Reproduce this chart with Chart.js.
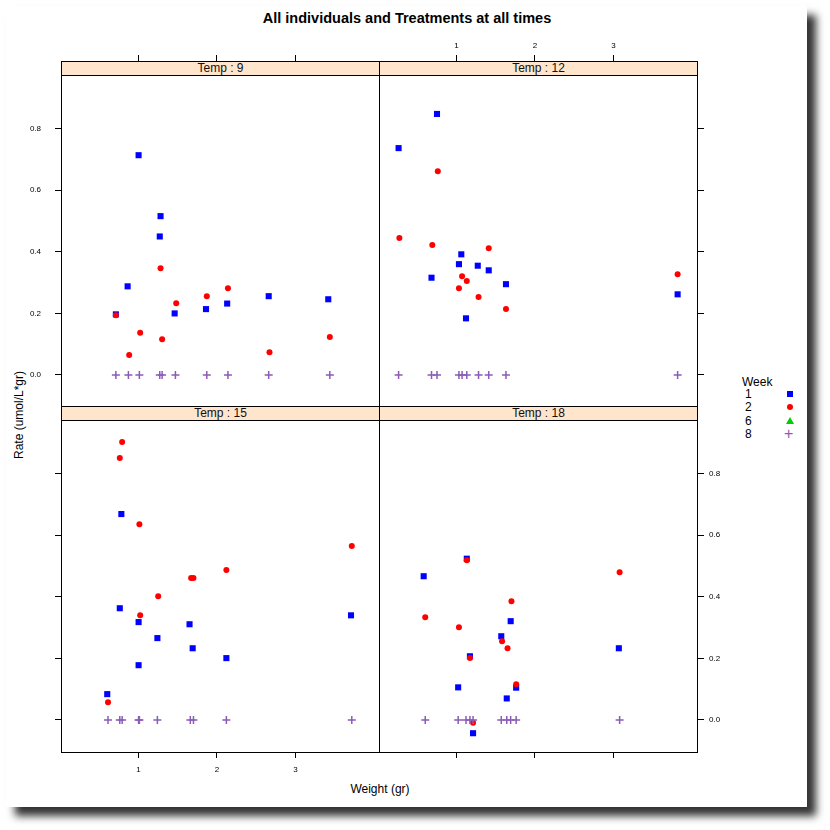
<!DOCTYPE html>
<html>
<head>
<meta charset="utf-8">
<script src="https://cdn.jsdelivr.net/npm/chart.js@4/dist/chart.umd.min.js"></script>
<style>
  body { margin: 0; background: #fff; font-family: "Liberation Sans", Arial, sans-serif; }
  #card { position: absolute; left: 6px; top: 6px; width: 801px; height: 801px; background: #fff;
          box-shadow: 9px 9px 8px rgba(0,0,0,0.8); }
  canvas { position: absolute; }
  .txt { position: absolute; white-space: nowrap; color: #000; }
  .box { position: absolute; box-sizing: border-box; border: 1px solid #000; pointer-events: none; }
  .strip { position: absolute; box-sizing: border-box; border: 1px solid #000; background: #ffe5cc;
           font-size: 12px; line-height: 13px; text-align: center; color: #111; }
  .sym { position: absolute; }
</style>
</head>
<body>
<div id="card"></div>
<div class="txt" style="left:0;width:814px;top:10px;text-align:center;font-weight:bold;font-size:14.5px;">All individuals and Treatments at all times</div>
<div class="txt" style="left:320px;width:120px;top:782px;text-align:center;font-size:12px;">Weight (gr)</div>
<div class="txt" style="left:-41px;width:120px;top:408px;text-align:center;font-size:12px;transform:rotate(-90deg);">Rate (umol/L*gr)</div>

<div id="legend"></div>

<script>
// axis ticks
const xTicks = [1, 2, 3];
const yTicks = [0, 0.2, 0.4, 0.6, 0.8];
const temps = [9, 12, 15, 18];
const weekLabels = ['1', '2', '6', '8'];

// Temp 9
const t9wk1Weight = [1.00, 1.28, 1.27, 0.86, 0.71, 1.46, 1.86, 2.13, 2.66, 3.42];
const t9wk1Rate   = [0.714, 0.516, 0.450, 0.288, 0.197, 0.200, 0.214, 0.232, 0.256, 0.246];
const t9wk2Weight = [1.28, 2.14, 1.87, 1.48, 0.71, 1.02, 1.30, 3.44, 0.88, 2.67];
const t9wk2Rate   = [0.347, 0.282, 0.256, 0.233, 0.194, 0.137, 0.116, 0.123, 0.065, 0.074];
const t9wk8Weight = [0.71, 0.87, 1.01, 1.27, 1.30, 1.47, 1.87, 2.14, 2.66, 3.44];
const t9wk8Rate   = [0, 0, 0, 0, 0, 0, 0, 0, 0, 0];

// Temp 12
const t12wk1Weight = [0.75, 0.26, 1.06, 1.03, 0.68, 1.27, 1.41, 1.63, 1.12, 3.82];
const t12wk1Rate   = [0.848, 0.737, 0.392, 0.360, 0.316, 0.355, 0.340, 0.295, 0.184, 0.262];
const t12wk2Weight = [0.76, 0.27, 0.69, 1.41, 1.07, 1.13, 1.03, 1.28, 1.63, 3.82];
const t12wk2Rate   = [0.662, 0.445, 0.422, 0.412, 0.321, 0.305, 0.282, 0.253, 0.214, 0.327];
const t12wk8Weight = [0.26, 0.68, 0.75, 1.03, 1.07, 1.13, 1.28, 1.41, 1.63, 3.82];
const t12wk8Rate   = [0, 0, 0, 0, 0, 0, 0, 0, 0, 0];

// Temp 15
const t15wk1Weight = [0.78, 0.76, 1.00, 1.24, 1.65, 1.69, 2.12, 1.00, 0.60, 3.71];
const t15wk1Rate   = [0.669, 0.363, 0.318, 0.266, 0.311, 0.233, 0.201, 0.178, 0.084, 0.340];
const t15wk2Weight = [0.79, 0.76, 1.01, 3.72, 2.12, 1.67, 1.70, 1.25, 1.02, 0.61];
const t15wk2Rate   = [0.903, 0.851, 0.636, 0.565, 0.487, 0.461, 0.461, 0.402, 0.340, 0.058];
const t15wk8Weight = [0.61, 0.76, 0.79, 1.00, 1.01, 1.24, 1.66, 1.70, 2.12, 3.72];
const t15wk8Rate   = [0, 0, 0, 0, 0, 0, 0, 0, 0, 0];

// Temp 18
const t18wk1Weight = [1.13, 0.58, 1.69, 1.57, 1.17, 3.07, 1.02, 1.76, 1.64, 1.21];
const t18wk1Rate   = [0.524, 0.467, 0.321, 0.272, 0.207, 0.233, 0.106, 0.105, 0.070, -0.043];
const t18wk2Weight = [1.13, 3.08, 1.70, 0.60, 1.03, 1.58, 1.65, 1.17, 1.76, 1.21];
const t18wk2Rate   = [0.519, 0.480, 0.386, 0.334, 0.301, 0.256, 0.233, 0.201, 0.116, -0.009];
const t18wk8Weight = [0.60, 1.02, 1.12, 1.17, 1.21, 1.57, 1.64, 1.69, 1.76, 3.08];
const t18wk8Rate   = [0, 0, 0, 0, 0, 0, 0, 0, 0, 0];

// week 6 has no measurements shown
const emptyWeek = [];

const panelData = {
  9:  [[t9wk1Weight, t9wk1Rate], [t9wk2Weight, t9wk2Rate], [emptyWeek, emptyWeek], [t9wk8Weight, t9wk8Rate]],
  12: [[t12wk1Weight, t12wk1Rate], [t12wk2Weight, t12wk2Rate], [emptyWeek, emptyWeek], [t12wk8Weight, t12wk8Rate]],
  15: [[t15wk1Weight, t15wk1Rate], [t15wk2Weight, t15wk2Rate], [emptyWeek, emptyWeek], [t15wk8Weight, t15wk8Rate]],
  18: [[t18wk1Weight, t18wk1Rate], [t18wk2Weight, t18wk2Rate], [emptyWeek, emptyWeek], [t18wk8Weight, t18wk8Rate]]
};

const weekColors = ['#0000ff', '#ff0000', '#00cc00', '#8a5cb8'];
const weekStyles = ['rect', 'circle', 'triangle', 'cross'];
const weekRadius = [4.3, 3, 3.5, 4];

// panel layout (lattice style, alternating axes)
const panels = [
  { temp: 9,  left: 0,   top: 30,  w: 380, h: 377, xPos: 'top',    yPos: 'left',  xLab: false, yLab: true,  stripTop: 61 },
  { temp: 12, left: 379, top: 30,  w: 359, h: 377, xPos: 'top',    yPos: 'right', xLab: true,  yLab: false, stripTop: 61 },
  { temp: 15, left: 0,   top: 406, w: 380, h: 386, xPos: 'bottom', yPos: 'left',  xLab: true,  yLab: false, stripTop: 406 },
  { temp: 18, left: 379, top: 406, w: 359, h: 386, xPos: 'bottom', yPos: 'right', xLab: false, yLab: true,  stripTop: 406 }
];

function zip(xs, ys) {
  return xs.map((x, i) => ({ x: x, y: ys[i] }));
}

// keep the chart area fixed: no label overhang padding
function noPad(scale) {
  scale.paddingTop = 0;
  scale.paddingBottom = 0;
  scale.paddingLeft = 0;
  scale.paddingRight = 0;
}

const tickFont = { family: 'Liberation Sans', size: 8 };

panels.forEach(function(p) {
  const canvas = document.createElement('canvas');
  canvas.width = p.w;
  canvas.height = p.h;
  canvas.style.left = p.left + 'px';
  canvas.style.top = p.top + 'px';
  document.body.appendChild(canvas);

  const datasets = panelData[p.temp].map(function(pair, i) {
    return {
      label: weekLabels[i],
      data: zip(pair[0], pair[1]),
      pointStyle: weekStyles[i],
      pointRadius: weekRadius[i],
      pointBackgroundColor: weekColors[i],
      pointBorderColor: weekColors[i],
      pointBorderWidth: i === 3 ? 1.5 : 0,
      order: 4 - i
    };
  });

  new Chart(canvas.getContext('2d'), {
    type: 'scatter',
    data: { datasets: datasets },
    options: {
      responsive: false,
      animation: false,
      events: [],
      layout: { padding: 0, autoPadding: false },
      plugins: { legend: { display: false }, tooltip: { enabled: false } },
      scales: {
        x: {
          type: 'linear',
          position: p.xPos,
          min: 0.01,
          max: 4.08,
          afterBuildTicks: function(scale) { scale.ticks = xTicks.map(v => ({ value: v })); },
          afterFit: function(scale) { scale.height = p.xPos === 'top' ? 31 : 40; noPad(scale); },
          border: { display: false },
          grid: { drawOnChartArea: false, drawTicks: true, tickLength: 6, tickColor: '#000', lineWidth: 1 },
          ticks: {
            font: tickFont, color: '#000', maxRotation: 0, autoSkip: false,
            padding: p.xPos === 'top' ? 4 : 7,
            callback: function(v) { return p.xLab ? String(v) : ''; }
          }
        },
        y: {
          type: 'linear',
          position: p.yPos,
          min: -0.104,
          max: 1.02,
          afterBuildTicks: function(scale) { scale.ticks = yTicks.map(v => ({ value: v })); },
          afterFit: function(scale) { scale.width = p.yPos === 'left' ? 61 : 40; noPad(scale); },
          border: { display: false },
          grid: { drawOnChartArea: false, drawTicks: true, tickLength: 6, tickColor: '#000', lineWidth: 1 },
          ticks: {
            font: tickFont, color: '#000', autoSkip: false,
            padding: p.yPos === 'left' ? 14 : 5,
            callback: function(v) { return p.yLab ? Number(v).toFixed(1) : ''; }
          }
        }
      }
    }
  });

  // panel frame and strip
  const boxLeft = p.yPos === 'left' ? 61 : 379;
  const box = document.createElement('div');
  box.className = 'box';
  box.style.left = boxLeft + 'px';
  box.style.top = p.stripTop + 'px';
  box.style.width = '319px';
  box.style.height = (p.stripTop === 61 ? 346 : 347) + 'px';
  document.body.appendChild(box);

  const strip = document.createElement('div');
  strip.className = 'strip';
  strip.style.left = boxLeft + 'px';
  strip.style.top = p.stripTop + 'px';
  strip.style.width = '319px';
  strip.style.height = '15px';
  strip.textContent = 'Temp : ' + p.temp;
  document.body.appendChild(strip);
});

// legend (key)
const legend = document.getElementById('legend');
let html = '<div class="txt" style="left:742px;top:375px;font-size:12px;">Week</div>';
weekLabels.forEach(function(lab, i) {
  const cy = 394 + i * 13.3;
  html += '<div class="txt" style="left:745px;top:' + (cy - 7) + 'px;font-size:12px;">' + lab + '</div>';
  if (i === 0) html += '<div class="sym" style="left:787px;top:' + (cy - 3) + 'px;width:6px;height:6px;background:' + weekColors[0] + ';"></div>';
  if (i === 1) html += '<div class="sym" style="left:787px;top:' + (cy - 3) + 'px;width:6px;height:6px;border-radius:3px;background:' + weekColors[1] + ';"></div>';
  if (i === 2) html += '<div class="sym" style="left:786px;top:' + (cy - 4) + 'px;width:0;height:0;border-left:4px solid transparent;border-right:4px solid transparent;border-bottom:7px solid ' + weekColors[2] + ';"></div>';
  if (i === 3) html += '<div class="txt" style="left:784px;top:' + (cy - 9) + 'px;font-size:16px;line-height:18px;color:' + weekColors[3] + ';">+</div>';
});
legend.innerHTML = html;
</script>
</body>
</html>
